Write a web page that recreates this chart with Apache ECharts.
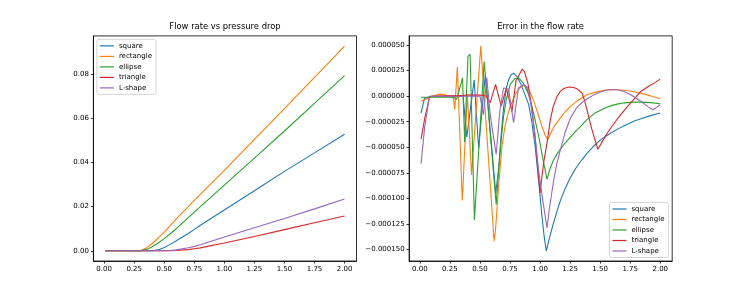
<!DOCTYPE html>
<html><head><meta charset="utf-8">
<script src="https://cdn.jsdelivr.net/npm/echarts@6/dist/echarts.min.js"></script>
<style>html,body{margin:0;padding:0;background:#fff}#c{width:747px;height:299px}</style>
</head><body><div id="c"></div><script>
// ---------- data ----------
var seriesNames = ['square', 'rectangle', 'ellipse', 'triangle', 'L-shape'];
var colors = ['#1f77b4', '#ff7f0e', '#2ca02c', '#d62728', '#9467bd'];
var xTicks = [0, 0.25, 0.5, 0.75, 1.0, 1.25, 1.5, 1.75, 2.0];
var flowTicks = [0, 0.02, 0.04, 0.06, 0.08];
var errTicks = [0.00005, 0.000025, 0, -0.000025, -0.00005, -0.000075, -0.0001, -0.000125, -0.00015];

// Flow rate vs pressure drop
var flowX = [0.01, 0.1, 0.2, 0.25, 0.3, 0.35, 0.4, 0.45, 0.5, 0.55, 0.6, 0.7, 0.75, 0.8, 1.0, 1.25, 1.5, 1.75, 2.0];
var flowSquare    = [0, 0, 0, 0, 0, 0, 0, 0.0004, 0.0015, 0.0029, 0.0045, 0.0078, 0.0097, 0.0116, 0.0185, 0.0272, 0.0360, 0.0444, 0.0528];
var flowRectangle = [0, 0, 0, 0, 0, 0.0012, 0.0033, 0.0058, 0.0085, 0.0114, 0.0145, 0.0200, 0.0228, 0.0256, 0.0365, 0.0505, 0.0645, 0.0786, 0.0928];
var flowEllipse   = [0, 0, 0, 0, 0, 0.0005, 0.0018, 0.0035, 0.0055, 0.0077, 0.0100, 0.0150, 0.0175, 0.0200, 0.0298, 0.0420, 0.0543, 0.0668, 0.0794];
var flowTriangle  = [0, 0, 0, 0, 0, 0, 0, 0, 0, 0, 0.0001, 0.0005, 0.0009, 0.0013, 0.0035, 0.0065, 0.0096, 0.0127, 0.0158];
var flowLshape    = [0, 0, 0, 0, 0, 0, 0, 0, 0, 0.0001, 0.0004, 0.0014, 0.0020, 0.0027, 0.0062, 0.0104, 0.0146, 0.0190, 0.0235];

// Error in the flow rate
var errSquareX = [0.01, 0.039, 0.1, 0.2, 0.3, 0.36, 0.39, 0.452, 0.489, 0.545, 0.631, 0.654, 0.675, 0.696, 0.72, 0.738, 0.76, 0.78, 0.81, 0.84, 0.87, 0.905, 0.93, 0.96, 0.99, 1.017, 1.035, 1.052,
                  1.08, 1.11, 1.14, 1.17, 1.21, 1.25, 1.3, 1.35, 1.39, 1.45, 1.5, 1.55, 1.59, 1.65, 1.7, 1.78, 1.85, 1.92, 2.0];
var errSquareY = [-16.6e-6, -2e-6, 0, 0, 0, 0, -40e-6, 16e-6, -51e-6, 22e-6, -95e-6, -73e-6, -40e-6, -12e-6, 8e-6, 16e-6, 21e-6, 22.5e-6, 19e-6, 12e-6, 3e-6, -8e-6, -24e-6, -50e-6, -85e-6, -119e-6, -138e-6, -151.5e-6,
                  -138e-6, -125e-6, -113e-6, -102e-6, -90e-6, -80e-6, -70e-6, -62e-6, -56e-6, -48.5e-6, -43e-6, -39e-6, -36e-6, -32e-6, -29e-6, -24.5e-6, -21.5e-6, -19e-6, -16.5e-6];

var errRectX = [0.01, 0.05, 0.1, 0.17, 0.22, 0.26, 0.28, 0.29, 0.312, 0.353, 0.395, 0.43, 0.507, 0.618, 0.63, 0.654, 0.682, 0.71, 0.75, 0.8, 0.84, 0.87, 0.9, 0.93, 0.96, 0.99, 1.02, 1.045, 1.064,
                1.09, 1.12, 1.17, 1.21, 1.253, 1.3, 1.35, 1.39, 1.45, 1.5, 1.55, 1.6, 1.65, 1.7, 1.75, 1.81, 1.87, 1.93, 2.0];
var errRectY = [-5e-6, -3e-6, 0, 2e-6, 1e-6, 0, -2e-6, -13e-6, 28.5e-6, -102e-6, 2e-6, -77e-6, 49e-6, -142e-6, -130e-6, -90e-6, -50e-6, -28e-6, -10e-6, 3e-6, 9e-6, 10.5e-6, 8e-6, 1e-6, -9e-6, -20e-6, -31e-6, -39e-6, -42.5e-6,
                -36e-6, -29e-6, -21e-6, -15e-6, -10e-6, -5.5e-6, -1.5e-6, 1.4e-6, 3.5e-6, 5e-6, 6e-6, 6.4e-6, 6.3e-6, 5.8e-6, 5e-6, 3.6e-6, 2e-6, 0, -2.5e-6];

var errEllipseX = [0.01, 0.1, 0.2, 0.28, 0.306, 0.355, 0.373, 0.40, 0.418, 0.454, 0.535, 0.635, 0.654, 0.675, 0.696, 0.72, 0.752, 0.79, 0.821, 0.86, 0.905, 0.93, 0.96, 0.99, 1.017, 1.04, 1.058,
                   1.08, 1.11, 1.15, 1.2, 1.253, 1.3, 1.35, 1.39, 1.45, 1.5, 1.55, 1.6, 1.65, 1.7, 1.78, 1.85, 1.92, 2.0];
var errEllipseY = [-1e-6, -1e-6, -1e-6, -1e-6, -3e-6, 18e-6, -45e-6, 39e-6, 41e-6, -121e-6, 34e-6, -106e-6, -75e-6, -45e-6, -20e-6, -3e-6, 11.5e-6, 17e-6, 18e-6, 13e-6, 1.7e-6, -9e-6, -24e-6, -40e-6, -57e-6, -71e-6, -81.5e-6,
                   -72e-6, -63e-6, -55e-6, -47e-6, -40e-6, -34e-6, -28e-6, -23e-6, -17e-6, -14e-6, -11e-6, -9e-6, -7.5e-6, -6.5e-6, -5.8e-6, -5.8e-6, -6.3e-6, -7.4e-6];

var errTriangleX = [0.01, 0.04, 0.08, 0.1, 0.3, 0.4, 0.5, 0.55, 0.585, 0.63, 0.677, 0.72, 0.766, 0.8, 0.851, 0.87, 0.9, 0.93, 0.96, 0.98, 1.0,
                    1.03, 1.058, 1.086, 1.11, 1.142, 1.17, 1.198, 1.24, 1.281, 1.31, 1.35, 1.37, 1.39, 1.43, 1.481, 1.52, 1.56, 1.62, 1.671, 1.75, 1.838, 1.9, 1.95, 2.0];
var errTriangleY = [-42e-6, -22e-6, -1e-6, 0, 0.5e-6, 1e-6, 1e-6, 0.5e-6, -6.5e-6, 11.5e-6, -9.7e-6, 8e-6, -15e-6, 15e-6, 26.4e-6, 24e-6, 12e-6, -10e-6, -41e-6, -68e-6, -94.8e-6,
                    -65e-6, -46e-6, -23e-6, -10e-6, 0, 5e-6, 7.5e-6, 9e-6, 8.5e-6, 7e-6, 3e-6, -4e-6, -13e-6, -32e-6, -52e-6, -44e-6, -36e-6, -26e-6, -18e-6, -7e-6, 4.6e-6, 9.5e-6, 12.8e-6, 16.7e-6];

var errLshapeX = [0.01, 0.04, 0.08, 0.2, 0.3, 0.4, 0.5, 0.529, 0.557, 0.585, 0.635, 0.665, 0.696, 0.738, 0.78, 0.82, 0.863, 0.89, 0.92, 0.95, 0.988, 1.02, 1.058,
                  1.08, 1.114, 1.14, 1.17, 1.21, 1.253, 1.3, 1.35, 1.39, 1.45, 1.5, 1.55, 1.6, 1.65, 1.7, 1.754, 1.8, 1.85, 1.9, 1.936, 1.97, 2.0];
var errLshapeY = [-66e-6, -30e-6, 0, 0, 0, 0, 0, -18e-6, 18e-6, -18e-6, -57e-6, -15e-6, 8e-6, 7e-6, -26e-6, 8e-6, 11.5e-6, 9e-6, -5e-6, -30e-6, -73e-6, -100e-6, -129e-6,
                  -108e-6, -82e-6, -66e-6, -52e-6, -35e-6, -21.4e-6, -12e-6, -6e-6, -2.8e-6, 1.5e-6, 4e-6, 5.8e-6, 6.5e-6, 6e-6, 4.5e-6, 1.4e-6, -2e-6, -6e-6, -10.5e-6, -13.3e-6, -11e-6, -8.4e-6];

// ---------- chart ----------
var FONT = 'DejaVu Sans';
function pairs(xs, ys) { return xs.map(function (x, i) { return [x, ys[i]]; }); }
var flowY = [flowSquare, flowRectangle, flowEllipse, flowTriangle, flowLshape];
var errXs = [errSquareX, errRectX, errEllipseX, errTriangleX, errLshapeX];
var errYs = [errSquareY, errRectY, errEllipseY, errTriangleY, errLshapeY];

function minusFmt(v, d) { return (v < 0 ? '\u2212' : '') + Math.abs(v).toFixed(d); }

function xAxis(gi) {
  return {
    type: 'value', gridIndex: gi, min: -0.0895, max: 2.0995,
    axisLine: { show: true, onZero: false, lineStyle: { color: '#000', width: 0.8 } },
    axisTick: { show: true, length: 2.5, customValues: xTicks, lineStyle: { color: '#000', width: 0.8 } },
    axisLabel: { customValues: xTicks, margin: 4.5, fontSize: 7, fontFamily: FONT, color: '#000',
      formatter: function (v) { return v.toFixed(2); } },
    splitLine: { show: false }
  };
}
function yAxis(gi, min, max, ticks, dec) {
  return {
    type: 'value', gridIndex: gi, min: min, max: max,
    axisLine: { show: true, onZero: false, lineStyle: { color: '#000', width: 0.8 } },
    axisTick: { show: true, length: 2.5, customValues: ticks, lineStyle: { color: '#000', width: 0.8 } },
    axisLabel: { customValues: ticks, margin: 4.5, fontSize: 7, fontFamily: FONT, color: '#000',
      formatter: function (v) { return minusFmt(v, dec); } },
    splitLine: { show: false }
  };
}

var series = [];
seriesNames.forEach(function (name, i) {
  series.push({
    name: name, type: 'line', xAxisIndex: 0, yAxisIndex: 0, symbol: 'none', showSymbol: false,
    data: pairs(flowX, flowY[i]), lineStyle: { width: 1.1, color: colors[i] }, itemStyle: { color: colors[i] },
    z: 2 + i
  });
});
seriesNames.forEach(function (name, i) {
  series.push({
    name: name, type: 'line', xAxisIndex: 1, yAxisIndex: 1, symbol: 'none', showSymbol: false,
    data: pairs(errXs[i], errYs[i]), lineStyle: { width: 1.1, color: colors[i] }, itemStyle: { color: colors[i] },
    z: 2 + i
  });
});

function legend(pos) {
  return Object.assign({
    orient: 'vertical', data: seriesNames, padding: [3, 4, 3, 3], itemGap: 3.5,
    icon: 'rect', itemWidth: 14, itemHeight: 1.2, selectedMode: false,
    textStyle: { fontSize: 7, fontFamily: FONT, color: '#000', lineHeight: 7 },
    backgroundColor: 'rgba(255,255,255,0.8)', borderColor: '#cccccc', borderWidth: 0.8, borderRadius: 2
  }, pos);
}

var option = {
  animation: false,
  backgroundColor: '#fff',
  title: [
    { text: 'Flow rate vs pressure drop', left: 225, top: 23, textAlign: 'center', padding: 0,
      textStyle: { fontSize: 8.4, fontWeight: 'normal', color: '#000', fontFamily: FONT } },
    { text: 'Error in the flow rate', left: 540.6, top: 23, textAlign: 'center', padding: 0,
      textStyle: { fontSize: 8.4, fontWeight: 'normal', color: '#000', fontFamily: FONT } }
  ],
  grid: [
    { left: 93.4, top: 35.9, width: 263.1, height: 225.1, show: true, borderColor: '#000', borderWidth: 0.8, backgroundColor: 'transparent' },
    { left: 409.1, top: 35.9, width: 263.1, height: 225.1, show: true, borderColor: '#000', borderWidth: 0.8, backgroundColor: 'transparent' }
  ],
  xAxis: [xAxis(0), xAxis(1)],
  yAxis: [
    yAxis(0, -0.00464, 0.09744, flowTicks, 2),
    yAxis(1, -0.0001613, 0.0000590, errTicks, 6)
  ],
  legend: [
    legend({ left: 96.9, top: 39.4 }),
    legend({ right: 78.5, bottom: 41.5 })
  ],
  series: series
};
var chart = echarts.init(document.getElementById('c'), null, { renderer: 'canvas' });
chart.setOption(option);
</script></body></html>
